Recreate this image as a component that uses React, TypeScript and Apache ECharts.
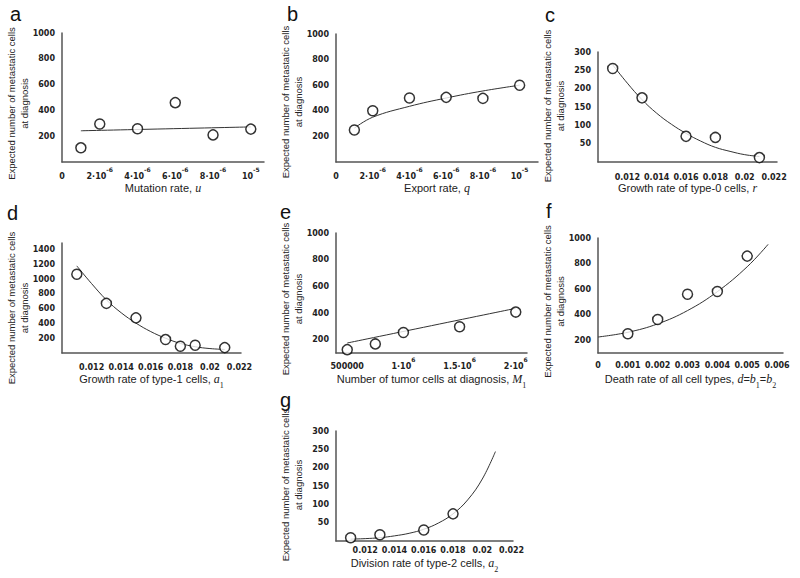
import React, { useEffect, useRef } from "react";
import * as echarts from "echarts";

// ---- Data ----
// a: Mutation rate
const aX = [1e-6, 2e-6, 4e-6, 6e-6, 8e-6, 1e-5];
const aY = [110, 295, 258, 460, 210, 255];
const aFitX = [1e-6, 1e-5];
const aFitY = [242, 272];
// b: Export rate
const bX = [1e-6, 2e-6, 4e-6, 6e-6, 8e-6, 1e-5];
const bY = [250, 400, 500, 505, 497, 600];
const bFitX = [1e-6, 2e-6, 4e-6, 6e-6, 8e-6, 1e-5];
const bFitY = [265, 350, 435, 500, 555, 600];
// c: Growth rate of type-0 cells
const cX = [0.011, 0.013, 0.016, 0.018, 0.021];
const cY = [255, 175, 70, 67, 12];
const cFitX = [0.011, 0.012, 0.013, 0.014, 0.015, 0.016, 0.017, 0.018, 0.019, 0.02, 0.021];
const cFitY = [265, 215, 170, 133, 103, 78, 57, 40, 29, 20, 15];
// d: Growth rate of type-1 cells
const dX = [0.011, 0.013, 0.015, 0.017, 0.018, 0.019, 0.021];
const dY = [1067, 672, 476, 182, 91, 105, 73];
const dFitX = [0.011, 0.012, 0.013, 0.014, 0.015, 0.016, 0.017, 0.018, 0.019, 0.02, 0.021];
const dFitY = [1180, 940, 720, 545, 405, 290, 200, 130, 85, 60, 48];
// e: Number of tumor cells at diagnosis
const eX = [500000, 750000, 1000000, 1500000, 2000000];
const eY = [125, 168, 254, 297, 407];
const eFitX = [500000, 2000000];
const eFitY = [175, 435];
// f: Death rate of all cell types
const fX = [0.001, 0.002, 0.003, 0.004, 0.005];
const fY = [251, 362, 560, 581, 858];
const fFitX = [0, 0.001, 0.002, 0.003, 0.004, 0.005, 0.0057];
const fFitY = [225, 262, 328, 432, 580, 775, 950];
// g: Division rate of type-2 cells
const gX = [0.011, 0.013, 0.016, 0.018];
const gY = [9, 17, 30, 74];
const gFitX = [0.011, 0.012, 0.013, 0.014, 0.015, 0.016, 0.017, 0.018, 0.019, 0.02, 0.0209];
const gFitY = [5, 6.5, 9, 14, 21, 32, 49, 74, 112, 169, 244];

// tick label values
const xTicksAB = [0, 2e-6, 4e-6, 6e-6, 8e-6, 1e-5];
const xTicksRate = [0.012, 0.014, 0.016, 0.018, 0.02, 0.022];
const xTicksE = [500000, 1000000, 1500000, 2000000];
const xTicksF = [0, 0.001, 0.002, 0.003, 0.004, 0.005, 0.006];
const yTicks1000 = [200, 400, 600, 800, 1000];
const yTicks300 = [50, 100, 150, 200, 250, 300];
const yTicks1400 = [200, 400, 600, 800, 1000, 1200, 1400];

const panelLetters = ["a", "b", "c", "d", "e", "f", "g"];

const TICKF = "DejaVu Sans";
const SANS = "Liberation Sans";
const SERIF = "Liberation Serif";
const Y_NAME = "Expected number of metastatic cells\nat diagnosis";
const TICK_COLOR = "#222";

const tickRich = {
  b: { fontFamily: TICKF, fontWeight: "bold", fontSize: 8, color: TICK_COLOR, lineHeight: 14, verticalAlign: "bottom" },
  s: { fontFamily: TICKF, fontWeight: "bold", fontSize: 6, color: TICK_COLOR, lineHeight: 14, verticalAlign: "top" },
};
const nameRich = {
  n: { fontFamily: SANS, fontSize: 11, color: "#222", lineHeight: 16, verticalAlign: "top" },
  v: { fontFamily: SERIF, fontStyle: "italic", fontSize: 12, color: "#222", lineHeight: 16, verticalAlign: "top" },
  sub: { fontFamily: SERIF, fontSize: 8, color: "#222", lineHeight: 16, verticalAlign: "bottom" },
};

const fmtE6 = (v: number) => {
  if (v === 0) return "{b|0}";
  const k = Math.round(v / 1e-6);
  if (k === 10) return "{b|10}{s|-5}";
  return `{b|${k}·10}{s|-6}`;
};
const fmtE = (v: number) => {
  if (v === 500000) return "{b|500000}";
  return `{b|${v / 1e6}·10}{s|6}`;
};
const fmtDec = (v: number) => (v === 0 ? "0" : String(Number(v.toFixed(4))));
const fmtInt = (v: number) => String(Math.round(v));

const axisLine = { show: true, lineStyle: { color: "#555", width: 1.5 } };

function xAxisCfg(i: number, min: number, max: number, ticks: number[], fmt: any, rich: boolean, margin: number, name: string, nameGap: number) {
  const base = { customValues: ticks, formatter: fmt, margin, interval: 0, showMinLabel: true, showMaxLabel: true, hideOverlap: false };
  return {
    type: "value",
    gridIndex: i,
    min,
    max,
    axisLine,
    axisTick: { show: false },
    splitLine: { show: false },
    axisLabel: rich
      ? { ...base, rich: tickRich }
      : { ...base, fontFamily: TICKF, fontWeight: "bold", fontSize: 8, color: TICK_COLOR },
    name,
    nameLocation: "middle",
    nameGap,
    nameMoveOverlap: false,
    nameTextStyle: { rich: nameRich },
  };
}

// shift: how many px the y-axis title sits below the plot's vertical centre
function yAxisCfg(i: number, min: number, max: number, ticks: number[], shift: number) {
  return {
    type: "value",
    gridIndex: i,
    min,
    max,
    axisLine,
    axisTick: { show: false },
    splitLine: { show: false },
    axisLabel: {
      customValues: ticks,
      formatter: fmtInt,
      fontFamily: TICKF,
      fontWeight: "bold",
      fontSize: 8,
      color: TICK_COLOR,
      margin: 7,
      interval: 0,
      showMinLabel: true,
      showMaxLabel: true,
    },
    name: Y_NAME,
    nameLocation: "middle",
    nameGap: 31,
    nameMoveOverlap: false,
    nameTextStyle: {
      fontFamily: SANS,
      fontSize: 9.5,
      lineHeight: 13,
      color: "#222",
      align: "center",
      padding: shift >= 0 ? [0, 2 * shift, 0, 0] : [0, 0, 0, -2 * shift],
    },
  };
}

const zip = (xs: number[], ys: number[]) => xs.map((x, k) => [x, ys[k]]);

function pair(i: number, xs: number[], ys: number[], fx: number[], fy: number[]) {
  return [
    {
      type: "line",
      xAxisIndex: i,
      yAxisIndex: i,
      data: zip(fx, fy),
      smooth: 0.4,
      showSymbol: false,
      lineStyle: { color: "#333", width: 1 },
      z: 2,
    },
    {
      type: "scatter",
      xAxisIndex: i,
      yAxisIndex: i,
      data: zip(xs, ys),
      symbol: "circle",
      symbolSize: 10,
      itemStyle: { color: "#fff", borderColor: "#000", borderWidth: 1.5 },
      z: 3,
    },
  ];
}

export default function App() {
  const ref = useRef<HTMLDivElement>(null);
  useEffect(() => {
    document.body.style.margin = "0";
    if (!ref.current) return;
    const chart = echarts.init(ref.current, undefined, { renderer: "svg" });
    const grids = [
      { left: 62, top: 33, width: 202, height: 129 },
      { left: 336, top: 34, width: 202, height: 128 },
      { left: 598, top: 52, width: 179, height: 110 },
      { left: 62, top: 243, width: 179, height: 110 },
      { left: 336, top: 233, width: 191, height: 120 },
      { left: 598, top: 238, width: 185, height: 115 },
      { left: 336, top: 431, width: 177, height: 110 },
    ];
    const letterPos = [
      [10, 14], [287, 14], [545, 15], [7, 213], [280, 212], [546, 211], [280, 400],
    ];
    const option = {
      animation: false,
      backgroundColor: "#fff",
      grid: grids.map((g) => ({ ...g, containLabel: false })),
      xAxis: [
        xAxisCfg(0, 0, 1.07e-5, xTicksAB, fmtE6, true, 4, "{n|Mutation rate, }{v|u}", 20),
        xAxisCfg(1, 0, 1.1e-5, xTicksAB, fmtE6, true, 4, "{n|Export rate, }{v|q}", 20),
        xAxisCfg(2, 0.01, 0.0222, xTicksRate, fmtDec, false, 11, "{n|Growth rate of type-0 cells, }{v|r}", 20),
        xAxisCfg(3, 0.01, 0.0221, xTicksRate, fmtDec, false, 10, "{n|Growth rate of type-1 cells, }{v|a}{sub|1}", 20),
        xAxisCfg(4, 400000, 2100000, xTicksE, fmtE, true, 3, "{n|Number of tumor cells at diagnosis, }{v|M}{sub|1}", 20),
        xAxisCfg(5, 0, 0.0062, xTicksF, fmtDec, false, 8, "{n|Death rate of all cell types, }{v|d}{n|=}{v|b}{sub|1}{n|=}{v|b}{sub|2}", 20),
        xAxisCfg(6, 0.01, 0.0221, xTicksRate, fmtDec, false, 5, "{n|Division rate of type-2 cells, }{v|a}{sub|2}", 16),
      ],
      yAxis: [
        yAxisCfg(0, 0, 1000, yTicks1000, 6),
        yAxisCfg(1, 0, 1000, yTicks1000, 4),
        yAxisCfg(2, 0, 300, yTicks300, -1),
        yAxisCfg(3, 0, 1490, yTicks1400, 10),
        yAxisCfg(4, 100, 1000, yTicks1000, 6),
        yAxisCfg(5, 100, 1000, yTicks1000, 6),
        yAxisCfg(6, 0, 300, yTicks300, -1),
      ],
      series: [
        ...pair(0, aX, aY, aFitX, aFitY),
        ...pair(1, bX, bY, bFitX, bFitY),
        ...pair(2, cX, cY, cFitX, cFitY),
        ...pair(3, dX, dY, dFitX, dFitY),
        ...pair(4, eX, eY, eFitX, eFitY),
        ...pair(5, fX, fY, fFitX, fFitY),
        ...pair(6, gX, gY, gFitX, gFitY),
      ],
      graphic: panelLetters.map((t, k) => ({
        type: "text",
        x: letterPos[k][0],
        y: letterPos[k][1],
        style: { text: t, font: `20px ${SANS}`, fill: "#111", verticalAlign: "middle", align: "left" },
      })),
    };
    chart.setOption(option as any);
    return () => chart.dispose();
  }, []);
  return <div ref={ref} style={{ width: 800, height: 578 }} />;
}
